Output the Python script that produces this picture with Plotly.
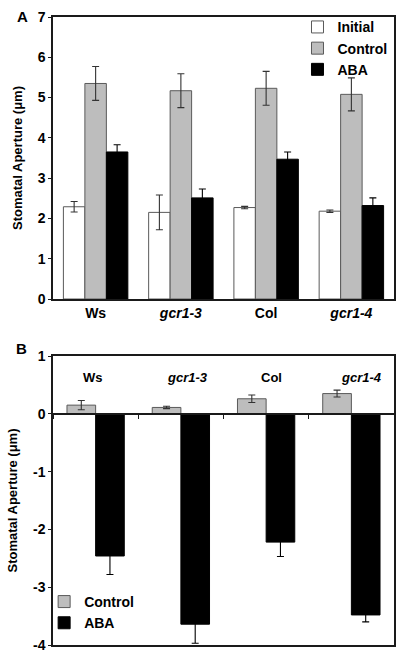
import plotly.graph_objects as go

# ---------------- data ----------------
categories = ["Ws", "gcr1-3", "Col", "gcr1-4"]
tick_labels = ["Ws", "<i>gcr1-3</i>", "Col", "<i>gcr1-4</i>"]

# Panel A: stomatal aperture (um)
initial = [2.29, 2.15, 2.27, 2.18]
initial_err = [0.13, 0.43, 0.03, 0.03]
control = [5.35, 5.17, 5.23, 5.08]
control_err = [0.42, 0.42, 0.42, 0.41]
aba = [3.65, 2.51, 3.47, 2.32]
aba_err = [0.18, 0.22, 0.18, 0.19]
a_ticks = [0, 1, 2, 3, 4, 5, 6, 7]
a_tick_labels = ["0", "1", "2", "3", "4", "5", "6", "7"]

# Panel B: change in stomatal aperture (um)
control_change = [0.15, 0.11, 0.26, 0.35]
control_change_err = [0.08, 0.02, 0.065, 0.06]
aba_change = [-2.46, -3.64, -2.22, -3.48]
aba_change_err = [0.32, 0.33, 0.25, 0.12]
b_ticks = [1, 0, -1, -2, -3, -4]
b_tick_labels = ["1", "0", "-1", "-2", "-3", "-4"]

# label positions (category index units) for panel B in-plot labels
b_label_x = [-0.03, 1.08, 2.06, 3.12]
b_label_y = 0.62

# ---------------- style ----------------
FONT = "Liberation Sans, Arial, sans-serif"
GRAY = "#bdbdbd"
EDGE = "#5a5a5a"
ERRC = "#333333"
AXC = "#1a1a1a"

W, H = 400, 653
ML, MR, MT, MB = 53, 6, 17, 8

fig = go.Figure()

def err(vals, color=ERRC):
    return dict(type="data", array=vals, visible=True, color=color, thickness=1.1, width=3.5)

# Panel A bars
wA = 0.252
fig.add_trace(go.Bar(name="Initial", x=categories, y=initial, error_y=err(initial_err),
                     marker=dict(color="white", line=dict(color=EDGE, width=1)),
                     width=wA, offset=-1.5 * wA, xaxis="x", yaxis="y", legend="legend"))
fig.add_trace(go.Bar(name="Control", x=categories, y=control, error_y=err(control_err),
                     marker=dict(color=GRAY, line=dict(color=EDGE, width=1)),
                     width=wA, offset=-0.5 * wA, xaxis="x", yaxis="y", legend="legend"))
fig.add_trace(go.Bar(name="ABA", x=categories, y=aba, error_y=err(aba_err, "black"),
                     marker=dict(color="black", line=dict(color="black", width=1)),
                     width=wA, offset=0.5 * wA, xaxis="x", yaxis="y", legend="legend"))

# Panel B bars
wB = 0.336
fig.add_trace(go.Bar(name="Control", x=categories, y=control_change, error_y=err(control_change_err),
                     marker=dict(color=GRAY, line=dict(color=EDGE, width=1)),
                     width=wB, offset=-wB, xaxis="x2", yaxis="y2", legend="legend2"))
fig.add_trace(go.Bar(name="ABA", x=categories, y=aba_change, error_y=err(aba_change_err, "black"),
                     marker=dict(color="black", line=dict(color="black", width=1)),
                     width=wB, offset=0, xaxis="x2", yaxis="y2", legend="legend2"))
# invisible helper trace so the zero-line axis (x3) is drawn
fig.add_trace(go.Scatter(x=categories, y=[0] * len(categories), mode="markers",
                         marker=dict(opacity=0), hoverinfo="skip", showlegend=False,
                         xaxis="x3", yaxis="y2"))

plot_h = H - MT - MB
domA = [(H - MB - 299) / plot_h, 1.0]
domB = [0.0, (H - MB - 356) / plot_h]
zero_pos = domB[0] + (domB[1] - domB[0]) * (0 - (-4)) / (1 - (-4))

tickfont = dict(family=FONT, size=14, color="black", weight="bold")
titlefont = dict(family=FONT, size=13, color="black", weight="bold")

common_x = dict(type="category", categoryorder="array", categoryarray=categories,
                range=[-0.5, 3.5], showline=True, linecolor=AXC, linewidth=1.5,
                mirror=True, showgrid=False, zeroline=False)
common_y = dict(showline=True, linecolor=AXC, linewidth=1.5, mirror=True, showgrid=False,
                ticks="outside", ticklen=3, tickcolor=AXC, tickfont=tickfont, automargin=False,
                title=dict(text="Stomatal Aperture (μm)", font=titlefont, standoff=12))

fig.update_layout(
    width=W, height=H,
    margin=dict(l=ML, r=MR, t=MT, b=MB, autoexpand=False),
    paper_bgcolor="white", plot_bgcolor="white",
    font=dict(family=FONT, color="black"),
    barmode="overlay",
    xaxis=dict(domain=[0, 1], anchor="y", ticks="", tickvals=categories, ticktext=tick_labels,
               tickfont=tickfont, automargin=False, **common_x),
    yaxis=dict(domain=domA, anchor="x", range=[0, 7], zeroline=False,
               tickvals=a_ticks, ticktext=a_tick_labels, **common_y),
    xaxis2=dict(domain=[0, 1], anchor="y2", ticks="", showticklabels=False, automargin=False,
                **common_x),
    yaxis2=dict(domain=domB, anchor="x2", range=[-4, 1], zeroline=False,
                tickvals=b_ticks, ticktext=b_tick_labels, **common_y),
    xaxis3=dict(type="category", categoryorder="array", categoryarray=categories,
                range=[-0.5, 3.5], overlaying="x2", anchor="free", position=zero_pos,
                showline=True, linecolor=AXC, linewidth=1.5, tickson="boundaries",
                ticks="outside", ticklen=4, tickcolor=AXC, showticklabels=False,
                showgrid=False, zeroline=False, automargin=False),
    legend=dict(x=0.717, y=1.009, xanchor="left", yanchor="top", bgcolor="rgba(0,0,0,0)",
                font=dict(family=FONT, size=14, color="black", weight="bold"),
                itemwidth=30, tracegroupgap=0),
    legend2=dict(x=-0.026, y=0.094, xanchor="left", yanchor="top", bgcolor="rgba(0,0,0,0)",
                 font=dict(family=FONT, size=14, color="black", weight="bold"),
                 itemwidth=30, tracegroupgap=0),
    showlegend=True,
)

annotations = [
    dict(text="A", xref="paper", yref="paper", x=-0.11, y=1.018, showarrow=False,
         font=dict(family=FONT, size=15, color="black", weight="bold")),
    dict(text="B", xref="paper", yref="paper", x=-0.115, y=(H - MB - 348) / plot_h, showarrow=False,
         font=dict(family=FONT, size=15, color="black", weight="bold")),
]
for lx, lab in zip(b_label_x, tick_labels):
    annotations.append(dict(text=lab, xref="x2", yref="y2", x=lx, y=b_label_y, showarrow=False,
                            font=dict(family=FONT, size=13, color="black", weight="bold")))
fig.update_layout(annotations=annotations)

fig.write_html("out.html", config=dict(displayModeBar=False),
               post_script="document.body.style.margin='0';document.body.style.overflow='hidden';")
